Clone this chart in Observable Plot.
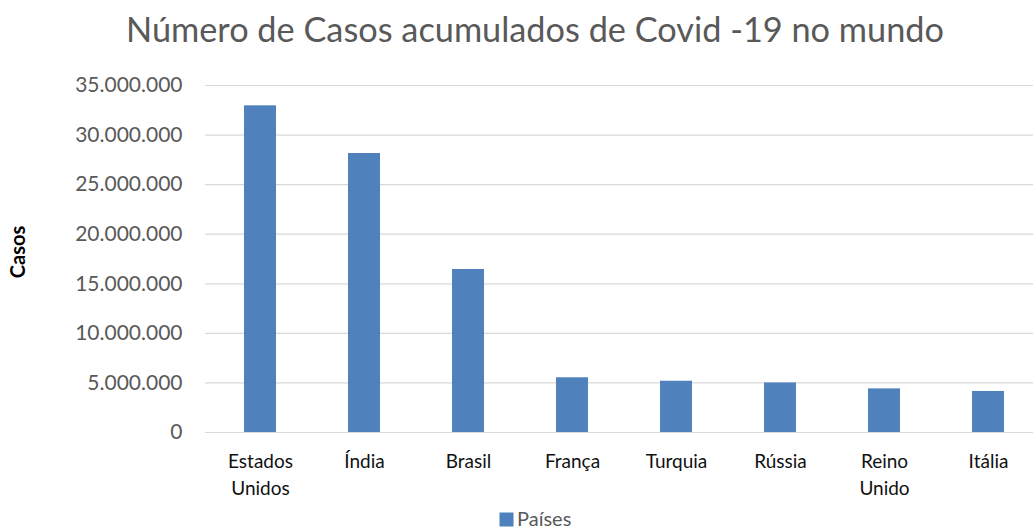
<!DOCTYPE html>
<html>
<head>
<meta charset="utf-8">
<script src="https://cdn.jsdelivr.net/npm/d3@7"></script>
<script src="https://cdn.jsdelivr.net/npm/@observablehq/plot@0.6"></script>
<style>
  html, body { margin: 0; padding: 0; background: #fff; }
  #chart { width: 1033px; height: 530px; overflow: hidden; }
</style>
</head>
<body>
<div id="chart"></div>
<script>
const paises = ["Estados Unidos", "Índia", "Brasil", "França", "Turquia", "Rússia", "Reino Unido", "Itália"];
const rotulos = ["Estados\nUnidos", "Índia", "Brasil", "França", "Turquia", "Rússia", "Reino\nUnido", "Itália"];
const casos = [32950000, 28140000, 16440000, 5520000, 5170000, 5000000, 4400000, 4140000];
const yTicks = [0, 5000000, 10000000, 15000000, 20000000, 25000000, 30000000, 35000000];
const titulo = "Número de Casos acumulados de Covid -19 no mundo";
const tituloEixoY = "Casos";
const serie = "Países";

const dados = paises.map((p, i) => ({pais: p, casos: casos[i]}));
const rotuloDe = new Map(paises.map((p, i) => [p, rotulos[i]]));
const fmt = d3.formatLocale({decimal: ",", thousands: ".", grouping: [3], currency: ["R$", ""]}).format(",d");

const FONT = "Lato, 'Open Sans', sans-serif";
const AZUL = "#4f81bd";

const chart = Plot.plot({
  width: 1033,
  height: 530,
  marginTop: 85,
  marginBottom: 98,
  marginLeft: 205,
  marginRight: -11,
  style: {fontFamily: FONT, background: "#fff", overflow: "hidden"},
  x: {domain: paises, paddingInner: 0.69, paddingOuter: 0.345},
  y: {domain: [0, 35000000]},
  marks: [
    Plot.ruleY(yTicks, {stroke: "#d9d9d9", strokeWidth: 1.2}),
    Plot.barY(dados, {x: "pais", y: "casos", fill: AZUL}),
    Plot.axisY(yTicks, {tickSize: 0, tickPadding: 23, tickFormat: fmt, fontSize: 21, color: "#595959", label: null}),
    Plot.axisX({tickSize: 0, tickPadding: 17, tickFormat: d => rotuloDe.get(d), fontSize: 19, lineHeight: 1.4, color: "#111", label: null})
  ]
});

const svg = d3.select(chart);
svg.append("text")
  .attr("x", 535).attr("y", 41.7)
  .attr("text-anchor", "middle")
  .attr("fill", "#595959")
  .style("font-family", FONT)
  .style("font-size", "34.3px")
  .text(titulo);

svg.append("text")
  .attr("transform", "translate(25,252) rotate(-90)")
  .attr("text-anchor", "middle")
  .attr("fill", "#000")
  .style("font-family", FONT)
  .style("font-weight", "bold")
  .style("font-size", "20px")
  .text(tituloEixoY);

svg.append("rect")
  .attr("x", 499.5).attr("y", 512.5).attr("width", 14).attr("height", 14)
  .attr("fill", AZUL);
svg.append("text")
  .attr("x", 517).attr("y", 525.5)
  .attr("text-anchor", "start")
  .attr("fill", "#595959")
  .style("font-family", FONT)
  .style("font-size", "20px")
  .text(serie);

document.getElementById("chart").appendChild(chart);
</script>
</body>
</html>
